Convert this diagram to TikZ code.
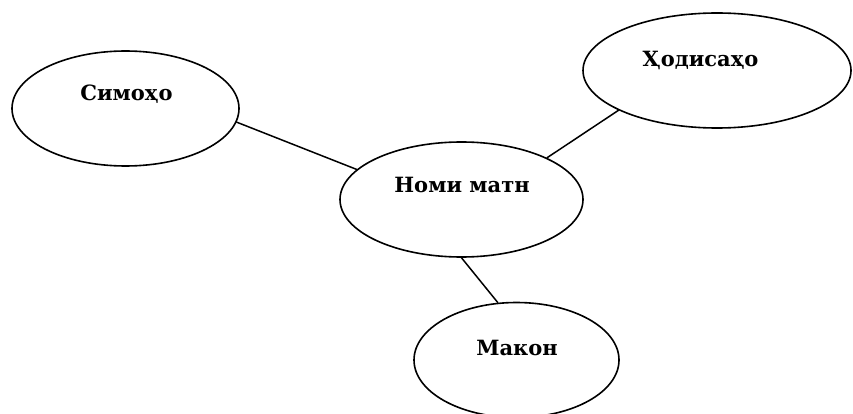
\documentclass[tikz,border=0pt]{standalone}
\usepackage{fontspec}
\setmainfont{DejaVu Serif}
\usetikzlibrary{shapes.geometric}
\definecolor{ColLine}{RGB}{0,0,0}
\tikzstyle{Bubble}=[ellipse,draw=ColLine,line width=1.6pt,inner sep=0pt,minimum height=115pt]
\tikzstyle{BubbleText}=[anchor=base,inner sep=0pt,font=\bfseries\fontsize{21}{25}\selectfont]
\tikzstyle{EdgeLine}=[ColLine,line width=1.5pt,line cap=round]

\begin{document}
\begin{tikzpicture}[x=1pt,y=-1pt]
        \useasboundingbox(0,0)rectangle(853,414);
        \node[Bubble,minimum width=227pt](simo)at(125.5,108.5){};
        \node[Bubble,minimum width=268pt](hodisa)at(717,70.5){};
        \node[Bubble,minimum width=243pt](nomi)at(461.5,199.5){};
        \node[Bubble,minimum width=205pt](makon)at(516.5,360){};
        \node[BubbleText](simoT)at(126.5,101){Симоҳо};
        \node[BubbleText](hodisaT)at(700.5,67){Ҳодисаҳо};
        \node[BubbleText](nomiT)at(462,192){Номи матн};
        \node[BubbleText](makonT)at(517,355){Макон};
        \draw[EdgeLine](simo.-7)--(nomi.164);
        \draw[EdgeLine](nomi.26)--(hodisa.-158);
        \draw[EdgeLine](nomi.-90)--(makon.108);
    \end{tikzpicture}
\end{document}
